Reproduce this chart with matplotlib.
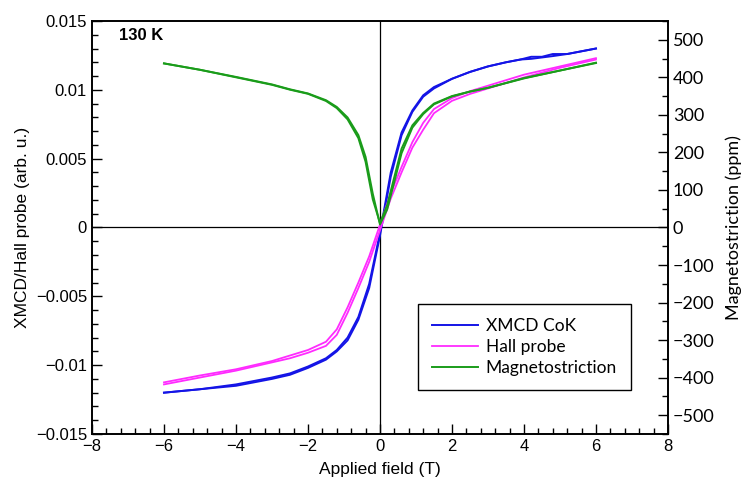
import matplotlib
matplotlib.use("Agg")
import matplotlib.pyplot as plt
from matplotlib.ticker import MultipleLocator, FuncFormatter

# XMCD Co K-edge (left axis), two field sweeps
xmcd_field = [-6, -5, -4, -3, -2.5, -2, -1.5, -1.2, -0.9, -0.6, -0.3, 0, 0.3, 0.6,
              0.9, 1.2, 1.5, 2, 2.5, 3, 3.5, 3.9, 4.2, 4.5, 4.8, 5.2, 6]
xmcd_down = [-0.0120, -0.01175, -0.0114, -0.0109, -0.0106, -0.0101, -0.0095, -0.0089,
             -0.0080, -0.0065, -0.0041, -0.0004, 0.0040, 0.0069, 0.0085, 0.0096, 0.0102,
             0.0108, 0.0113, 0.0117, 0.0120, 0.0122, 0.0124, 0.0124, 0.0126, 0.0126, 0.0130]
xmcd_up = [-0.0120, -0.01175, -0.0115, -0.0110, -0.0107, -0.0102, -0.0096, -0.0090,
           -0.0082, -0.0067, -0.0044, -0.0006, 0.0037, 0.0067, 0.0084, 0.0095, 0.0101,
           0.0108, 0.0113, 0.0117, 0.0120, 0.0122, 0.01225, 0.01235, 0.01245, 0.0126, 0.0130]

# Hall probe (left axis)
hall_field = [-6, -5, -4, -3, -2.5, -2, -1.5, -1.2, -0.9, -0.6, -0.3, 0, 0.3, 0.6,
              0.9, 1.2, 1.5, 2, 2.5, 3, 4, 5, 6]
hall_down = [-0.01125, -0.01075, -0.0103, -0.0097, -0.0093, -0.0089, -0.0083, -0.0074,
             -0.0058, -0.0040, -0.0021, 0.0002, 0.0025, 0.0044, 0.0062, 0.0076, 0.0086,
             0.0094, 0.0099, 0.0103, 0.0111, 0.0117, 0.0123]
hall_up = [-0.0114, -0.0109, -0.0104, -0.0098, -0.0095, -0.0091, -0.0086, -0.0078,
           -0.0062, -0.0044, -0.0025, -0.0002, 0.0021, 0.0040, 0.0058, 0.0071, 0.0083,
           0.0092, 0.0097, 0.0101, 0.0109, 0.0116, 0.0122]

# Magnetostriction in ppm (right axis)
ms_field = [-6, -5, -4, -3, -2.5, -2, -1.5, -1.2, -0.9, -0.6, -0.4, -0.2, 0, 0.2,
            0.4, 0.6, 0.9, 1.2, 1.5, 2, 2.5, 3, 4, 5, 6]
ms_down = [437, 420, 400, 380, 367, 356, 337, 318, 288, 238, 175, 75, 12, 60,
           135, 210, 272, 305, 330, 350, 362, 372, 398, 418, 439]
ms_up = [437, 420, 401, 381, 368, 357, 339, 321, 293, 246, 188, 90, 8, 48,
         122, 198, 266, 302, 328, 349, 362, 372, 397, 418, 438]

blue = "#1414e6"
magenta = "#ff2bff"
green = "#1a9c1a"
arial = "Liberation Sans"
calibri = "Lato"

fig = plt.figure(figsize=(7.46, 4.88), dpi=100)
ax = fig.add_axes([0.1233, 0.1107, 0.7721, 0.8463])
ax2 = ax.twinx()

l1, = ax.plot(xmcd_field, xmcd_down, color=blue, lw=1.4)
ax.plot(xmcd_field, xmcd_up, color=blue, lw=1.4)
l2, = ax.plot(hall_field, hall_down, color=magenta, lw=1.3)
ax.plot(hall_field, hall_up, color=magenta, lw=1.3)
l3, = ax2.plot(ms_field, ms_down, color=green, lw=1.4)
ax2.plot(ms_field, ms_up, color=green, lw=1.4)

ax.axhline(0, color="black", lw=0.9, zorder=0)
ax.axvline(0, color="black", lw=0.9, zorder=0)

ax.set_xlim(-8, 8)
ax.set_ylim(-0.015, 0.015)
ax2.set_ylim(-550, 550)

ax.xaxis.set_major_locator(MultipleLocator(2))
ax.xaxis.set_minor_locator(MultipleLocator(0.4))
ax.yaxis.set_major_locator(MultipleLocator(0.005))
ax.yaxis.set_minor_locator(MultipleLocator(0.001))
ax2.yaxis.set_major_locator(MultipleLocator(100))
ax2.yaxis.set_minor_locator(MultipleLocator(50))

ax.yaxis.set_major_formatter(FuncFormatter(lambda v, p: ("%g" % round(v, 4)).replace("-", "\u2212")))
ax.xaxis.set_major_formatter(FuncFormatter(lambda v, p: ("%g" % v).replace("-", "\u2212")))
ax2.yaxis.set_major_formatter(FuncFormatter(lambda v, p: ("%d" % v).replace("-", "\u2212")))

ax.tick_params(axis="both", which="major", direction="in", length=7, width=1,
               top=False, right=False, labelsize=12)
ax.tick_params(axis="both", which="minor", direction="in", length=4, width=1,
               top=False, right=False)
ax2.tick_params(axis="y", which="major", direction="in", length=7, width=1, labelsize=12)
ax2.tick_params(axis="y", which="minor", direction="in", length=4, width=1)

for lab in ax.get_xticklabels() + ax.get_yticklabels():
    lab.set_fontfamily(arial)
for lab in ax2.get_yticklabels():
    lab.set_fontfamily(calibri)
    lab.set_fontsize(13)

for sp in ax.spines.values():
    sp.set_linewidth(1.2)
for sp in ax2.spines.values():
    sp.set_linewidth(1.2)

ax.set_xlabel("Applied field (T)", fontsize=12.5, family=arial, labelpad=6)
ax.set_ylabel("XMCD/Hall probe (arb. u.)", fontsize=12.5, family=arial, labelpad=4)
ax2.set_ylabel("Magnetostriction (ppm)", fontsize=13, family=calibri, labelpad=8)

ax.text(0.047, 0.983, "130 K", transform=ax.transAxes, fontsize=12, fontweight="bold",
        family=arial, va="top", ha="left")

leg = ax2.legend([l1, l2, l3], ["XMCD CoK", "Hall probe", "Magnetostriction"],
                 loc="upper left", bbox_to_anchor=(0.566, 0.315), borderaxespad=0,
                 frameon=True, fancybox=False, edgecolor="black", framealpha=1,
                 prop={"family": calibri, "size": 12.5}, handlelength=2.65,
                 borderpad=0.8, labelspacing=0.3, handletextpad=0.45)
leg.get_frame().set_linewidth(1.0)

fig.savefig("out.png", dpi=100)
